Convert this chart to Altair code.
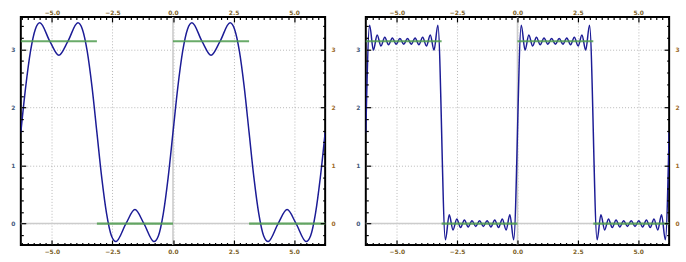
import altair as alt
import pandas as pd

X_MIN, X_MAX = -6.2832, 6.2832
Y_MIN, Y_MAX = -0.37, 3.56

# Left panel: coarse approximation
left_x = [-6.283, -6.083, -5.883, -5.683, -5.498, -5.083, -4.712, -4.341, -3.927, -3.742,
          -3.542, -3.342, -3.142, -2.942, -2.742, -2.542, -2.356, -1.942, -1.571, -1.200,
          -0.785, -0.600, -0.400, -0.200, 0.000, 0.200, 0.400, 0.600, 0.785, 1.200,
          1.571, 1.942, 2.356, 2.542, 2.742, 2.942, 3.142, 3.342, 3.542, 3.742,
          3.927, 4.342, 4.712, 5.083, 5.498, 5.683, 5.883, 6.083, 6.283]
left_y = [1.57, 2.35, 2.97, 3.35, 3.46, 3.14, 2.90, 3.14, 3.46, 3.35,
          2.97, 2.35, 1.57, 0.79, 0.17, -0.21, -0.31, 0.00, 0.24, 0.00,
          -0.31, -0.21, 0.17, 0.79, 1.57, 2.35, 2.97, 3.35, 3.46, 3.14,
          2.90, 3.14, 3.46, 3.35, 2.97, 2.35, 1.57, 0.79, 0.17, -0.21,
          -0.31, 0.00, 0.24, 0.00, -0.31, -0.21, 0.17, 0.79, 1.57]

# Right panel: fine approximation, ripple extrema
right_x = [-6.283,
           -6.126, -5.969, -5.812, -5.655, -5.498, -5.341, -5.183, -5.026, -4.869, -4.712,
           -4.555, -4.398, -4.241, -4.084, -3.927, -3.770, -3.613, -3.456, -3.298,
           -2.985, -2.827, -2.670, -2.513, -2.356, -2.199, -2.042, -1.885, -1.728, -1.571,
           -1.414, -1.257, -1.100, -0.942, -0.785, -0.628, -0.471, -0.314, -0.157,
           0.157, 0.314, 0.471, 0.628, 0.785, 0.942, 1.100, 1.257, 1.414, 1.571,
           1.728, 1.885, 2.042, 2.199, 2.356, 2.513, 2.670, 2.827, 2.985,
           3.299, 3.456, 3.613, 3.770, 3.927, 4.084, 4.241, 4.398, 4.555, 4.712,
           4.869, 5.026, 5.184, 5.341, 5.498, 5.655, 5.812, 5.969, 6.126,
           6.283]
right_y = [1.57,
           3.42, 2.99, 3.25, 3.06, 3.21, 3.08, 3.20, 3.09, 3.19, 3.09,
           3.19, 3.09, 3.20, 3.08, 3.21, 3.06, 3.25, 2.99, 3.42,
           -0.28, 0.15, -0.11, 0.08, -0.07, 0.06, -0.06, 0.05, -0.05, 0.05,
           -0.05, 0.05, -0.06, 0.06, -0.07, 0.08, -0.11, 0.15, -0.28,
           3.42, 2.99, 3.25, 3.06, 3.21, 3.08, 3.20, 3.09, 3.19, 3.09,
           3.19, 3.09, 3.20, 3.08, 3.21, 3.06, 3.25, 2.99, 3.42,
           -0.28, 0.15, -0.11, 0.08, -0.07, 0.06, -0.06, 0.05, -0.05, 0.05,
           -0.05, 0.05, -0.06, 0.06, -0.07, 0.08, -0.11, 0.15, -0.28,
           1.57]

# Target square wave (green segments)
step_x0 = [-6.2832, -3.1416, 0.0, 3.1416]
step_x1 = [-3.1416, 0.0, 3.1416, 6.2832]
step_y = [3.1416, 0.0, 3.1416, 0.0]

# Tick values
x_major = [-5.0, -2.5, 0.0, 2.5, 5.0]
x_minor = [-6.25, -6.0, -5.75, -5.5, -5.25, -4.75, -4.5, -4.25, -4.0, -3.75, -3.5, -3.25,
           -3.0, -2.75, -2.25, -2.0, -1.75, -1.5, -1.25, -1.0, -0.75, -0.5, -0.25,
           0.25, 0.5, 0.75, 1.0, 1.25, 1.5, 1.75, 2.0, 2.25, 2.75, 3.0, 3.25, 3.5,
           3.75, 4.0, 4.25, 4.5, 4.75, 5.25, 5.5, 5.75, 6.0, 6.25]
y_major = [0, 1, 2, 3]
y_minor = [-0.2, 0.2, 0.4, 0.6, 0.8, 1.2, 1.4, 1.6, 1.8, 2.2, 2.4, 2.6, 2.8, 3.2, 3.4]

BLUE = "#1c1c96"
GREEN = "#4f9c4f"
GRID = "#b0b0b0"
ZERO = "#cccccc"
XLAB = "#7d6228"
YLAB_L = "#44597a"
YLAB_R = "#9c6a28"
FONT = "DejaVu Sans"
FS = 6


def tick_axis(orient, values, size, offset):
    return alt.Axis(orient=orient, values=values, offset=offset, tickSize=size,
                    ticks=True, labels=False, domain=False, grid=False, title=None,
                    tickColor="black", tickWidth=1.2, zindex=1)


def panel(xv, yv, w, h):
    curve_df = pd.DataFrame({"x": xv, "y": yv})
    step_df = pd.DataFrame({"x0": step_x0, "x1": step_x1, "y": step_y})
    xs = alt.Scale(domain=[X_MIN, X_MAX], nice=False, zero=False)
    ys = alt.Scale(domain=[Y_MIN, Y_MAX], nice=False, zero=False)

    hzero = alt.Chart(pd.DataFrame({"y": [0.0]})).mark_rule(
        color=ZERO, strokeWidth=1.6).encode(y=alt.Y("y:Q", scale=ys, axis=None))
    vzero = alt.Chart(pd.DataFrame({"x": [0.0]})).mark_rule(
        color=ZERO, strokeWidth=1.6).encode(x=alt.X("x:Q", scale=xs, axis=None))

    curve = alt.Chart(curve_df).mark_line(
        color=BLUE, strokeWidth=1.5, interpolate="monotone", clip=True).encode(
        x=alt.X("x:Q", scale=xs, axis=alt.Axis(
            orient="bottom", values=x_major, format=".1f", labelColor=XLAB,
            labelPadding=4, ticks=False, domain=False, grid=True, gridColor=GRID,
            gridDash=[1, 2], gridWidth=0.9, title=None, labelFont=FONT,
            labelFontSize=FS, labelFontWeight="bold")),
        y=alt.Y("y:Q", scale=ys, axis=alt.Axis(
            orient="left", values=y_major, format="d", labelColor=YLAB_L,
            labelPadding=6, ticks=False, domain=False, grid=True, gridColor=GRID,
            gridDash=[1, 2], gridWidth=0.9, title=None, labelFont=FONT,
            labelFontSize=FS, labelFontWeight="bold")),
    )

    steps = alt.Chart(step_df).mark_rule(color=GREEN, strokeWidth=2.2, opacity=0.85).encode(
        x=alt.X("x0:Q", scale=xs, axis=alt.Axis(
            orient="top", values=x_major, format=".1f", labelColor=XLAB,
            labelPadding=2, ticks=False, domain=False, grid=False, title=None,
            labelFont=FONT, labelFontSize=FS, labelFontWeight="bold")),
        x2="x1:Q",
        y=alt.Y("y:Q", scale=ys, axis=alt.Axis(
            orient="right", values=y_major, format="d", labelColor=YLAB_R,
            labelPadding=6, ticks=False, domain=False, grid=False, title=None,
            labelFont=FONT, labelFontSize=FS, labelFontWeight="bold")),
    )

    def ticks(xo, xvals, yo, yvals, size):
        return alt.Chart(step_df).mark_point(opacity=0).encode(
            x=alt.X("x0:Q", scale=xs, axis=tick_axis(xo, xvals, size, -h)),
            y=alt.Y("y:Q", scale=ys, axis=tick_axis(yo, yvals, size, -w)),
        )

    t1 = ticks("top", x_major, "right", y_major, 5)
    t2 = ticks("top", x_minor, "right", y_minor, 2.5)
    t3 = ticks("bottom", x_major, "left", y_major, 5)
    t4 = ticks("bottom", x_minor, "left", y_minor, 2.5)

    return alt.layer(hzero, vzero, curve, steps, t1, t2, t3, t4).resolve_axis(
        x="independent", y="independent").properties(width=w, height=h)


left = panel(left_x, left_y, 307, 230)
right = panel(right_x, right_y, 306, 230)

chart = alt.hconcat(left, right, spacing=17).properties(
    padding={"left": 9, "top": 7, "right": 5, "bottom": 5}
).configure_view(stroke="black", strokeWidth=2)

chart.save("out.html", embed_options={"renderer": "svg", "actions": False})
